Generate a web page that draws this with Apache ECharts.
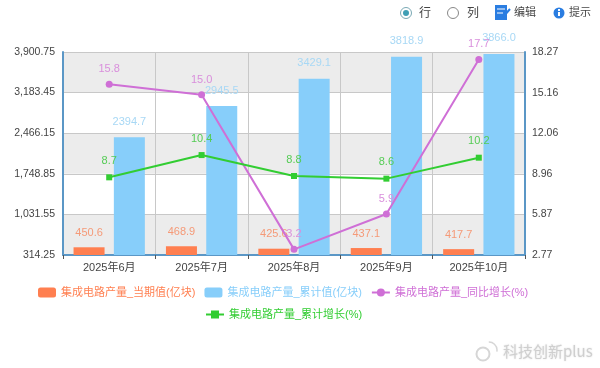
<!DOCTYPE html>
<html>
<head>
<meta charset="utf-8">
<style>
html,body{margin:0;padding:0;background:#fff;}
#main{width:600px;height:368px;}
</style>
<script src="https://cdn.jsdelivr.net/npm/echarts@6/dist/echarts.min.js"></script>
</head>
<body>
<div id="main"></div>
<script>
var months = ['2025年6月','2025年7月','2025年8月','2025年9月','2025年10月'];
var current = [450.6,468.9,425.6,437.1,417.7];
var total = [2394.7,2945.5,3429.1,3818.9,3866.0];
var yoy = [15.8,15.0,3.2,5.9,17.7];
var totalGrowth = [8.7,10.4,8.8,8.6,10.2];
var leftTicks = [314.25,1031.55,1748.85,2466.15,3183.45,3900.75];
var rightTicks = [2.77,5.87,8.96,12.06,15.16,18.27];

var fontName = '"Liberation Sans","Noto Sans CJK SC",sans-serif';

function lab(color,dist){
    return {
        show:true,
        position:'top',
        distance:dist,
        color:color,
        fontSize:11,
        fontFamily:fontName,
        formatter:function(p){ return p.value.toFixed(1); }
    };
}

var legendText = {color:'inherit',fontSize:11,fontFamily:fontName};

var option = {
    backgroundColor:'#fff',
    animation:false,
    textStyle:{fontFamily:fontName},
    legend:[
        {
            left:33,
            top:282,
            itemWidth:18,
            itemHeight:10,
            itemGap:9,
            textStyle:legendText,
            data:['集成电路产量_当期值(亿块)','集成电路产量_累计值(亿块)','集成电路产量_同比增长(%)']
        },
        {
            left:200,
            top:304,
            itemWidth:18,
            itemHeight:10,
            textStyle:legendText,
            data:['集成电路产量_累计增长(%)']
        }
    ],
    grid:{left:63,right:75,top:52,bottom:113},
    xAxis:{
        type:'category',
        data:months,
        axisLine:{lineStyle:{color:'#5b97c6',width:2}},
        axisTick:{show:true,length:4,lineStyle:{color:'#555'}},
        axisLabel:{color:'#444',fontSize:11,margin:7,fontFamily:fontName},
        splitLine:{show:true,lineStyle:{color:'#c8c8c8'}}
    },
    yAxis:[
        {
            type:'value',
            min:leftTicks[0],
            max:leftTicks[5],
            axisLine:{show:true,lineStyle:{color:'#5b97c6',width:2}},
            axisTick:{show:false,customValues:leftTicks},
            axisLabel:{color:'#444',fontSize:10.5,margin:8,customValues:leftTicks,fontFamily:fontName},
            splitLine:{show:true,lineStyle:{color:'#c8c8c8'}},
            splitArea:{show:true,areaStyle:{color:['#ececec','#fff']}}
        },
        {
            type:'value',
            min:rightTicks[0],
            max:rightTicks[5],
            axisLine:{show:true,lineStyle:{color:'#5b97c6',width:2}},
            axisTick:{show:false,customValues:rightTicks},
            axisLabel:{color:'#444',fontSize:10.5,margin:7,customValues:rightTicks,fontFamily:fontName},
            splitLine:{show:false}
        }
    ],
    series:[
        {
            name:'集成电路产量_当期值(亿块)',
            type:'bar',
            barWidth:31,
            barGap:'30%',
            data:current,
            itemStyle:{color:'#ff7f50'},
            label:lab('#f59a78',9)
        },
        {
            name:'集成电路产量_累计值(亿块)',
            type:'bar',
            barWidth:31,
            barGap:'30%',
            data:total,
            itemStyle:{color:'#87cefa'},
            label:lab('#a8d8f5',10)
        },
        {
            name:'集成电路产量_同比增长(%)',
            type:'line',
            yAxisIndex:1,
            symbol:'circle',
            symbolSize:7,
            data:yoy,
            itemStyle:{color:'#cf6fd6'},
            lineStyle:{color:'#cf6fd6',width:2},
            label:lab('#d98fdc',6)
        },
        {
            name:'集成电路产量_累计增长(%)',
            type:'line',
            yAxisIndex:1,
            symbol:'rect',
            symbolSize:6,
            data:totalGrowth,
            itemStyle:{color:'#32cd32'},
            lineStyle:{color:'#32cd32',width:2},
            label:lab('#55cc55',8)
        }
    ],
    graphic:[
        // 顶部的单选和按钮
        {type:'circle',shape:{cx:406,cy:13,r:5.5},style:{fill:'#fff',stroke:'#7aa9b5',lineWidth:1}},
        {type:'circle',shape:{cx:406,cy:13,r:3},style:{fill:'#3f9fb5'}},
        {type:'text',style:{x:419,y:6,text:'行',fill:'#444',font:'12px "Noto Sans CJK SC"'}},
        {type:'circle',shape:{cx:453,cy:13,r:5.5},style:{fill:'#fff',stroke:'#888',lineWidth:1}},
        {type:'text',style:{x:467,y:6,text:'列',fill:'#444',font:'12px "Noto Sans CJK SC"'}},
        {type:'rect',shape:{x:495,y:5,width:12,height:15},style:{fill:'#2a7de1'}},
        {type:'line',shape:{x1:497,y1:9,x2:505,y2:9},style:{stroke:'#fff',lineWidth:1}},
        {type:'line',shape:{x1:497,y1:13,x2:503,y2:13},style:{stroke:'#fff',lineWidth:1}},
        {type:'line',shape:{x1:503,y1:17,x2:510,y2:9},style:{stroke:'#2a7de1',lineWidth:2}},
        {type:'text',style:{x:514,y:6,text:'编辑',fill:'#444',font:'11px "Noto Sans CJK SC"'}},
        {type:'circle',shape:{cx:559,cy:13,r:5.5},style:{fill:'#2a7de1'}},
        {type:'rect',shape:{x:558,y:12,width:2,height:4},style:{fill:'#fff'}},
        {type:'rect',shape:{x:558,y:9,width:2,height:2},style:{fill:'#fff'}},
        {type:'text',style:{x:569,y:6,text:'提示',fill:'#444',font:'11px "Noto Sans CJK SC"'}},
        // 水印
        {type:'circle',shape:{cx:483,cy:354,r:6.5},style:{fill:'none',stroke:'#d6d6d6',lineWidth:2}},
        {type:'arc',shape:{cx:489,cy:350,r:8,startAngle:-1.6,endAngle:0.2},style:{fill:'none',stroke:'#d6d6d6',lineWidth:1.5}},
        {type:'text',style:{x:503,y:344,text:'科技创新plus',fill:'#cfcfcf',font:'15px "Noto Sans CJK SC"',textShadowColor:'#ddd',textShadowBlur:2}}
    ]
};

var chart = echarts.init(document.getElementById('main'));
chart.setOption(option);
</script>
</body>
</html>
